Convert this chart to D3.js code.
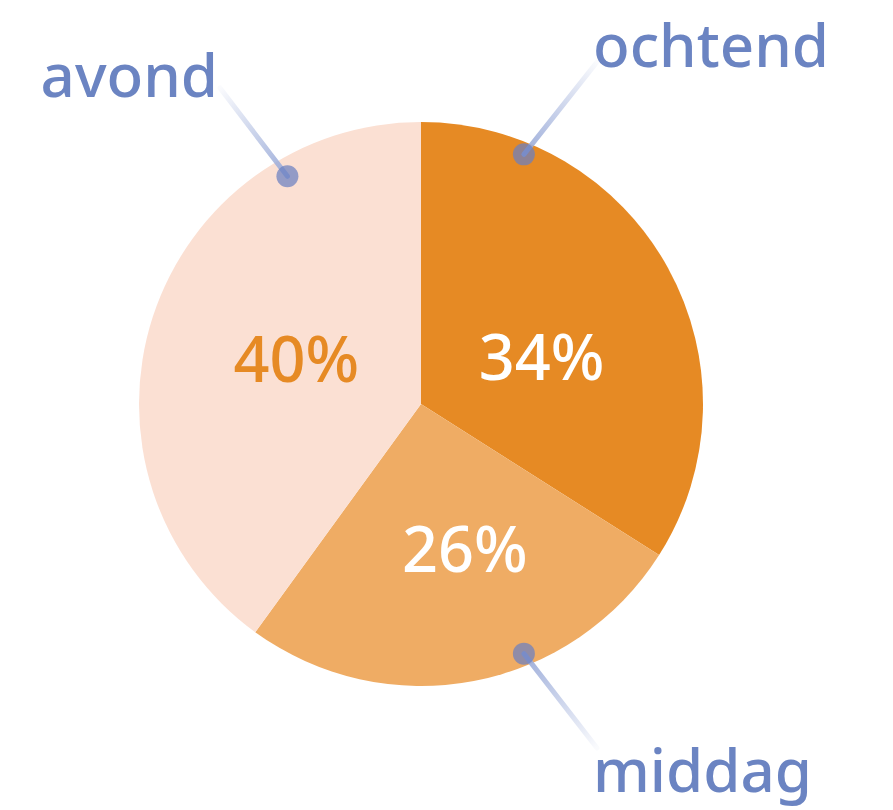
<!DOCTYPE html>
<html>
<head>
<meta charset="utf-8">
<script src="https://cdn.jsdelivr.net/npm/d3@7/dist/d3.min.js"></script>
<style>
  html, body { margin: 0; padding: 0; background: #fff; }
  svg { display: block; }
  text { font-family: "Noto Sans", "Open Sans", sans-serif; }
</style>
</head>
<body>
<svg id="chart" width="893" height="810"></svg>
<script>
// Share of the day, by part of day
const categories = ["ochtend", "middag", "avond"];
const values = [34, 26, 40];
const valueLabels = ["34%", "26%", "40%"];

const sliceColors = ["#E68A24", "#EFAC64", "#FBE0D3"];
const valueTextColors = ["#FFFFFF", "#FFFFFF", "#E68A24"];
const labelColor = "#6B84C2";

const W = 893, H = 810;
const cx = 421, cy = 404, R = 282;

const svg = d3.select("#chart");
const defs = svg.append("defs");
const g = svg.append("g").attr("transform", `translate(${cx},${cy})`);

const pie = d3.pie().sort(null).value(d => d)(values);
const arc = d3.arc().innerRadius(0).outerRadius(R);

g.selectAll("path.slice")
  .data(pie)
  .join("path")
  .attr("class", "slice")
  .attr("d", arc)
  .attr("fill", (d, i) => sliceColors[i]);

// Value labels placed in polar coordinates (angle in degrees clockwise from top, radius)
const valuePos = [
  { a: 68, r: 130 },
  { a: 163, r: 150 },
  { a: -69.5, r: 133 }
];
const polar = (a, r) => {
  const t = a * Math.PI / 180;
  return [r * Math.sin(t), -r * Math.cos(t)];
};

g.selectAll("text.value")
  .data(pie)
  .join("text")
  .attr("class", "value")
  .attr("text-anchor", "middle")
  .attr("dominant-baseline", "central")
  .attr("font-size", 63)
  .attr("font-weight", 500)
  .attr("fill", (d, i) => valueTextColors[i])
  .attr("transform", (d, i) => {
    const [x, y] = polar(valuePos[i].a, valuePos[i].r);
    return `translate(${x},${y})`;
  })
  .text((d, i) => valueLabels[i]);

// Callouts: a dot on the slice, a fading leader line and the category name
const callouts = [
  { dot: { a: 22.4, r: 270 }, end: [176, -342], text: [172, -337], anchor: "start" },
  { dot: { a: 157.6, r: 270 }, end: [176, 344], text: [172, 388], anchor: "start" },
  { dot: { a: -30.4, r: 264 }, end: [-201, -316], text: [-203, -307], anchor: "end" }
];

callouts.forEach((c, i) => {
  const [dx, dy] = polar(c.dot.a, c.dot.r);
  const gid = "lead" + i;
  const grad = defs.append("linearGradient")
    .attr("id", gid)
    .attr("gradientUnits", "userSpaceOnUse")
    .attr("x1", dx).attr("y1", dy)
    .attr("x2", c.end[0]).attr("y2", c.end[1]);
  grad.append("stop").attr("offset", 0).attr("stop-color", "#9EAEDA").attr("stop-opacity", 1);
  grad.append("stop").attr("offset", 1).attr("stop-color", "#9EAEDA").attr("stop-opacity", 0.05);

  g.append("line")
    .attr("x1", dx).attr("y1", dy)
    .attr("x2", c.end[0]).attr("y2", c.end[1])
    .attr("stroke", `url(#${gid})`)
    .attr("stroke-width", 5)
    .attr("stroke-linecap", "round");

  g.append("circle")
    .attr("cx", dx).attr("cy", dy)
    .attr("r", 11)
    .attr("fill", "#6B7FC0")
    .attr("fill-opacity", 0.72);

  g.append("text")
    .attr("x", c.text[0]).attr("y", c.text[1])
    .attr("text-anchor", c.anchor)
    .attr("font-size", 60)
    .attr("font-weight", 500)
    .attr("fill", labelColor)
    .text(categories[i]);
});
</script>
</body>
</html>
